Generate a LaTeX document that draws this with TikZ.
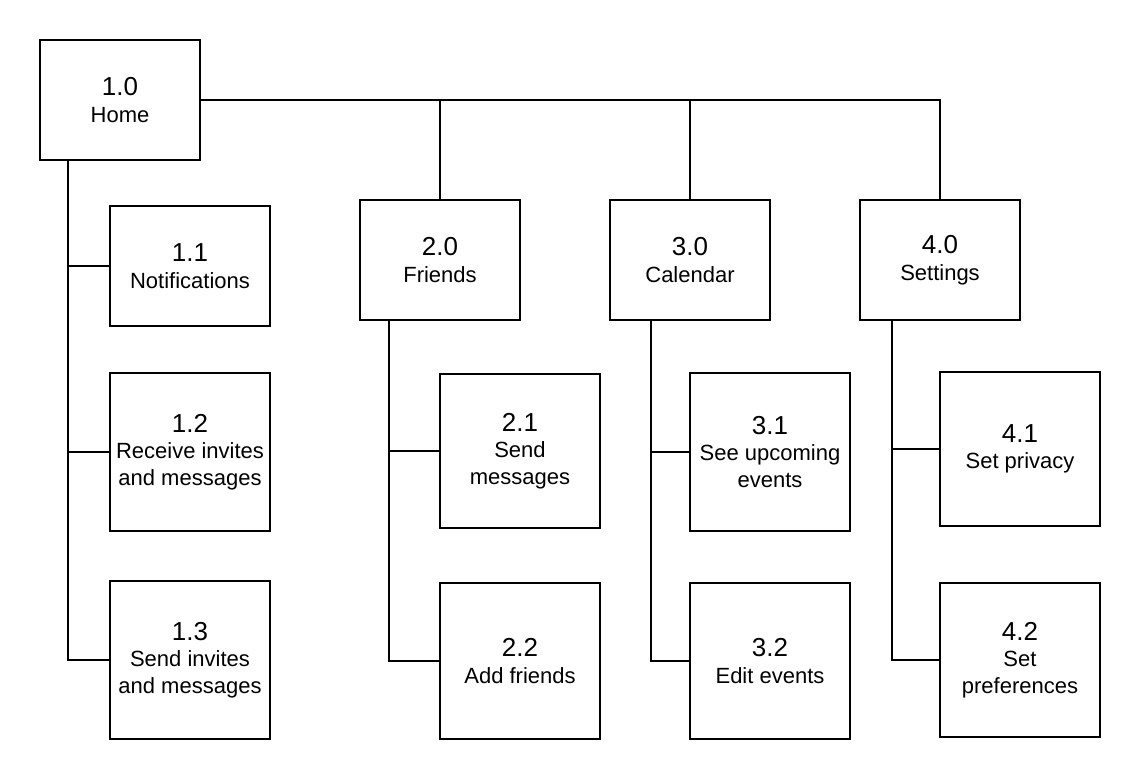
\documentclass[tikz,border=0pt]{standalone}
\usepackage{fontspec}
\setmainfont{Liberation Sans}
\usetikzlibrary{positioning}
\newcommand{\pnum}[1]{{\fontsize{19.5}{22}\selectfont #1}}
\tikzset{
  page/.style={draw, line width=1.5pt, minimum width=120pt, minimum height=90pt,
    align=center, inner sep=2pt, font=\fontsize{16.5}{20}\selectfont},
  tallpage/.style={page, minimum height=119pt},
  wire/.style={line width=1.5pt}
}

\begin{document}
\begin{tikzpicture}[x=0.75pt, y=-0.75pt]
  \useasboundingbox (0,0) rectangle (1140,780);

  % Home and its pages
  \node[page] (home) at (120,100) {\pnum{1.0}\\ Home};
  \node[page] (notif) at (190,266) {\pnum{1.1}\\ Notifications};
  \node[tallpage] (recv) at (190,452) {\pnum{1.2}\\ Receive invites\\ and messages};
  \node[tallpage] (sendinv) at (190,660) {\pnum{1.3}\\ Send invites\\ and messages};

  % Friends
  \node[page] (friends) at (440,260) {\pnum{2.0}\\ Friends};
  \node[tallpage, minimum height=116pt] (sendmsg) at (520,451) {\pnum{2.1}\\ Send\\ messages};
  \node[tallpage, minimum height=117pt] (addfr) at (520,661) {\pnum{2.2}\\ Add friends};

  % Calendar
  \node[page] (calendar) at (690,260) {\pnum{3.0}\\ Calendar};
  \node[tallpage] (upcoming) at (770,452) {\pnum{3.1}\\ See upcoming\\ events};
  \node[tallpage, minimum height=117pt] (editev) at (770,661) {\pnum{3.2}\\ Edit events};

  % Settings
  \node[page] (settings) at (940,260) {\pnum{4.0}\\ Settings};
  \node[tallpage, minimum height=116pt] (privacy) at (1020,449) {\pnum{4.1}\\ Set privacy};
  \node[tallpage, minimum height=116pt] (prefs) at (1020,660) {\pnum{4.2}\\ Set\\ preferences};

  % top bar
  \draw[wire] (home.east) -| (settings.north);
  \draw[wire] (friends.north) -- (friends.north |- home.east);
  \draw[wire] (calendar.north) -- (calendar.north |- home.east);

  % trunks
  \coordinate (homeT) at (68,160);
  \coordinate (friendsT) at (389,320);
  \coordinate (calT) at (651,320);
  \coordinate (setT) at (892,320);

  \draw[wire] (homeT) |- (sendinv.west);
  \draw[wire] (notif.west) -- (notif.west -| homeT);
  \draw[wire] (recv.west) -- (recv.west -| homeT);

  \draw[wire] (friendsT) |- (addfr.west);
  \draw[wire] (sendmsg.west) -- (sendmsg.west -| friendsT);

  \draw[wire] (calT) |- (editev.west);
  \draw[wire] (upcoming.west) -- (upcoming.west -| calT);

  \draw[wire] (setT) |- (prefs.west);
  \draw[wire] (privacy.west) -- (privacy.west -| setT);
\end{tikzpicture}
\end{document}
